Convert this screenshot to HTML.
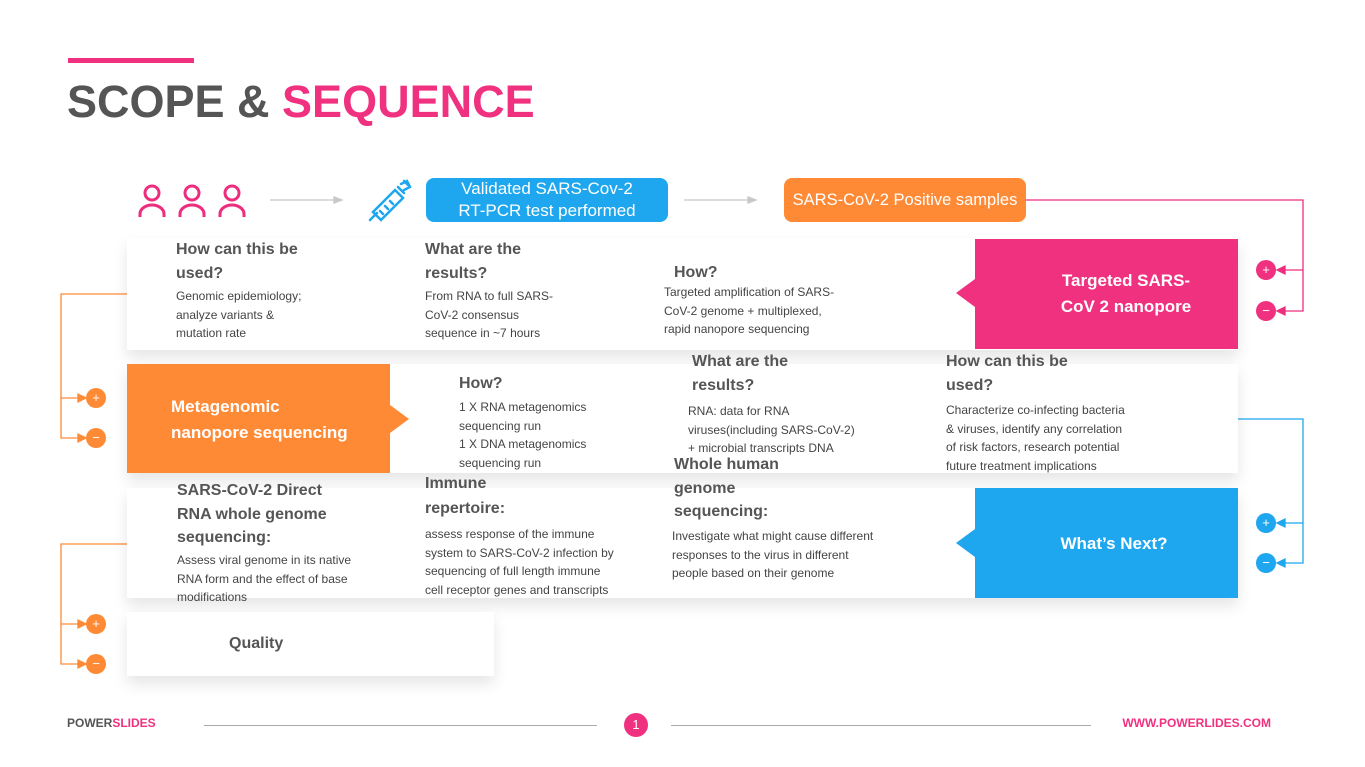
<!DOCTYPE html>
<html><head><meta charset="utf-8"><style>
*{margin:0;padding:0;box-sizing:border-box}
body{width:1365px;height:767px;background:#fff;position:relative;overflow:hidden;font-family:"Liberation Sans",Arial,sans-serif;color:#555}
.a{position:absolute}
.h{position:absolute;font-weight:bold;font-size:16px;line-height:23.5px;color:#555;white-space:nowrap}
.b{position:absolute;font-size:12px;line-height:18.6px;color:#444;white-space:nowrap}
.w{position:absolute;font-weight:bold;font-size:17px;line-height:26px;color:#fff;white-space:nowrap}
.row{position:absolute;left:127px;width:1111px;background:#fff;box-shadow:0 8px 14px rgba(0,0,0,.10)}
.c{position:absolute;width:20px;height:20px;border-radius:50%;color:#fff;font-size:13px;line-height:20px;text-align:center}
</style></head><body>
<div class="a" style="left:68px;top:58px;width:126px;height:5px;background:#f0317f"></div>
<div class="a" style="left:67px;top:75px;font-size:45px;font-weight:bold;line-height:54px;white-space:nowrap"><span style="color:#555">SCOPE &amp; </span><span style="color:#f0317f">SEQUENCE</span></div>

<svg class="a" style="left:0;top:0" width="1365" height="767">
 <g fill="none" stroke="#ee2d7f" stroke-width="3">
  <circle cx="152" cy="193" r="7"/><path d="M140 217 v-3 a12 9 0 0 1 24 0 v3"/>
  <circle cx="192" cy="193" r="7"/><path d="M180 217 v-3 a12 9 0 0 1 24 0 v3"/>
  <circle cx="232" cy="193" r="7"/><path d="M220 217 v-3 a12 9 0 0 1 24 0 v3"/>
 </g>
 <g stroke="#1ea7ee" stroke-width="2.5" fill="none" stroke-linecap="round">
  <path d="M373 212 l22-22 8 8 -22 22 z"/><path d="M370 220 l7-7"/><path d="M398 187 l6 6 M401 184 l6-3 3 6 -6 3 M404 181 l4 4"/>
  <path d="M380 211 l3 3 M385 206 l3 3 M390 201 l3 3"/>
 </g>
 <g stroke="#c8c8c8" stroke-width="1.3" fill="#c8c8c8"><path d="M270 200 h64"/><path d="M342 200 l-8-3 v6z"/><path d="M684 200 h64"/><path d="M756 200 l-8-3 v6z"/></g>
 <g stroke="#ee2d7f" stroke-width="1.3" fill="#ee2d7f"><path d="M1026 200 h277 v111 h-20 M1303 270 h-20" fill="none"/><path d="M1277 270 l8-4 v8z"/><path d="M1277 311 l8-4 v8z"/></g>
 <g stroke="#1ea7ee" stroke-width="1.3" fill="#1ea7ee"><path d="M1238 419 h65 v144 h-20 M1303 523 h-20" fill="none"/><path d="M1277 523 l8-4 v8z"/><path d="M1277 563 l8-4 v8z"/></g>
 <g stroke="#ff8a36" stroke-width="1.3" fill="#ff8a36"><path d="M127 294 h-66 v144 h20 M61 398 h20" fill="none"/><path d="M86 398 l-8-4 v8z"/><path d="M86 438 l-8-4 v8z"/>
 <path d="M127 544 h-66 v120 h20 M61 624 h20" fill="none"/><path d="M86 624 l-8-4 v8z"/><path d="M86 664 l-8-4 v8z"/></g>
</svg>

<div class="a" style="left:426px;top:178px;width:242px;height:44px;border-radius:8px;background:#1ea7ee;color:#fff;font-size:17px;line-height:22px;text-align:center">Validated SARS-Cov-2<br>RT-PCR test performed</div>
<div class="a" style="left:784px;top:178px;width:242px;height:44px;border-radius:8px;background:#ff8a36;color:#fff;font-size:16.5px;line-height:44px;text-align:center">SARS-CoV-2 Positive samples</div>

<div class="row" style="top:238px;height:112px"></div>
<div class="row" style="top:364px;height:109px"></div>
<div class="row" style="top:488px;height:110px"></div>
<div class="row" style="top:612px;height:64px;width:367px"></div>

<div class="a" style="left:975px;top:239px;width:263px;height:110px;background:#f0317f"></div>
<div class="a" style="left:956px;top:279px;width:0;height:0;border-top:14px solid transparent;border-bottom:14px solid transparent;border-right:19px solid #f0317f"></div>
<div class="a" style="left:127px;top:364px;width:263px;height:109px;background:#ff8a36"></div>
<div class="a" style="left:390px;top:405px;width:0;height:0;border-top:14px solid transparent;border-bottom:14px solid transparent;border-left:19px solid #ff8a36"></div>
<div class="a" style="left:975px;top:488px;width:263px;height:110px;background:#1ea7ee"></div>
<div class="a" style="left:956px;top:529px;width:0;height:0;border-top:14px solid transparent;border-bottom:14px solid transparent;border-right:19px solid #1ea7ee"></div>

<div class="c" style="left:1256px;top:260px;background:#f0317f">+</div>
<div class="c" style="left:1256px;top:301px;background:#f0317f">−</div>
<div class="c" style="left:1256px;top:513px;background:#1ea7ee">+</div>
<div class="c" style="left:1256px;top:553px;background:#1ea7ee">−</div>
<div class="c" style="left:86px;top:388px;background:#ff8a36">+</div>
<div class="c" style="left:86px;top:428px;background:#ff8a36">−</div>
<div class="c" style="left:86px;top:614px;background:#ff8a36">+</div>
<div class="c" style="left:86px;top:654px;background:#ff8a36">−</div>

<div class="h" style="left:176px;top:238px">How can this be<br>used?</div>
<div class="b" style="left:176px;top:287px">Genomic epidemiology;<br>analyze variants &amp;<br>mutation rate</div>
<div class="h" style="left:425px;top:238px">What are the<br>results?</div>
<div class="b" style="left:425px;top:287px">From RNA to full SARS-<br>CoV-2 consensus<br>sequence in ~7 hours</div>
<div class="h" style="left:674px;top:261px">How?</div>
<div class="b" style="left:664px;top:283px">Targeted amplification of SARS-<br>CoV-2 genome + multiplexed,<br>rapid nanopore sequencing</div>
<div class="w" style="left:1020px;top:268px;width:212px;text-align:center">Targeted SARS-<br>CoV 2 nanopore</div>

<div class="w" style="left:171px;top:394px">Metagenomic<br>nanopore sequencing</div>
<div class="h" style="left:459px;top:372px">How?</div>
<div class="b" style="left:459px;top:398px">1 X RNA metagenomics<br>sequencing run<br>1 X DNA metagenomics<br>sequencing run</div>
<div class="h" style="left:692px;top:350px">What are the<br>results?</div>
<div class="b" style="left:688px;top:402px">RNA: data for RNA<br>viruses(including SARS-CoV-2)<br>+ microbial transcripts DNA</div>
<div class="h" style="left:946px;top:350px">How can this be<br>used?</div>
<div class="b" style="left:946px;top:401px">Characterize co-infecting bacteria<br>&amp; viruses, identify any correlation<br>of risk factors, research potential<br>future treatment implications</div>

<div class="h" style="left:177px;top:479px">SARS-CoV-2 Direct<br>RNA whole genome<br>sequencing:</div>
<div class="b" style="left:177px;top:551px">Assess viral genome in its native<br>RNA form and the effect of base<br>modifications</div>
<div class="h" style="left:425px;top:471px;line-height:25px">Immune<br>repertoire:</div>
<div class="b" style="left:425px;top:525px">assess response of the immune<br>system to SARS-CoV-2 infection by<br>sequencing of full length immune<br>cell receptor genes and transcripts</div>
<div class="h" style="left:674px;top:453px">Whole human<br>genome<br>sequencing:</div>
<div class="b" style="left:672px;top:527px">Investigate what might cause different<br>responses to the virus in different<br>people based on their genome</div>
<div class="w" style="left:975px;top:531px;width:278px;text-align:center">What’s Next?</div>

<div class="h" style="left:229px;top:632px;font-size:16px">Quality</div>

<div class="a" style="left:67px;top:716px;font-size:12px;font-weight:bold;line-height:15px"><span style="color:#555">POWER</span><span style="color:#f0317f">SLIDES</span></div>
<div class="a" style="left:204px;top:725px;width:393px;height:1px;background:#aaa"></div>
<div class="a" style="left:671px;top:725px;width:420px;height:1px;background:#aaa"></div>
<div class="a" style="left:624px;top:713px;width:24px;height:24px;border-radius:50%;background:#f0317f;color:#fff;font-size:13px;line-height:24px;text-align:center">1</div>
<div class="a" style="left:1100px;top:716px;width:171px;text-align:right;font-size:12px;font-weight:bold;line-height:15px;color:#f0317f">WWW.POWERLIDES.COM</div>
</body></html>
